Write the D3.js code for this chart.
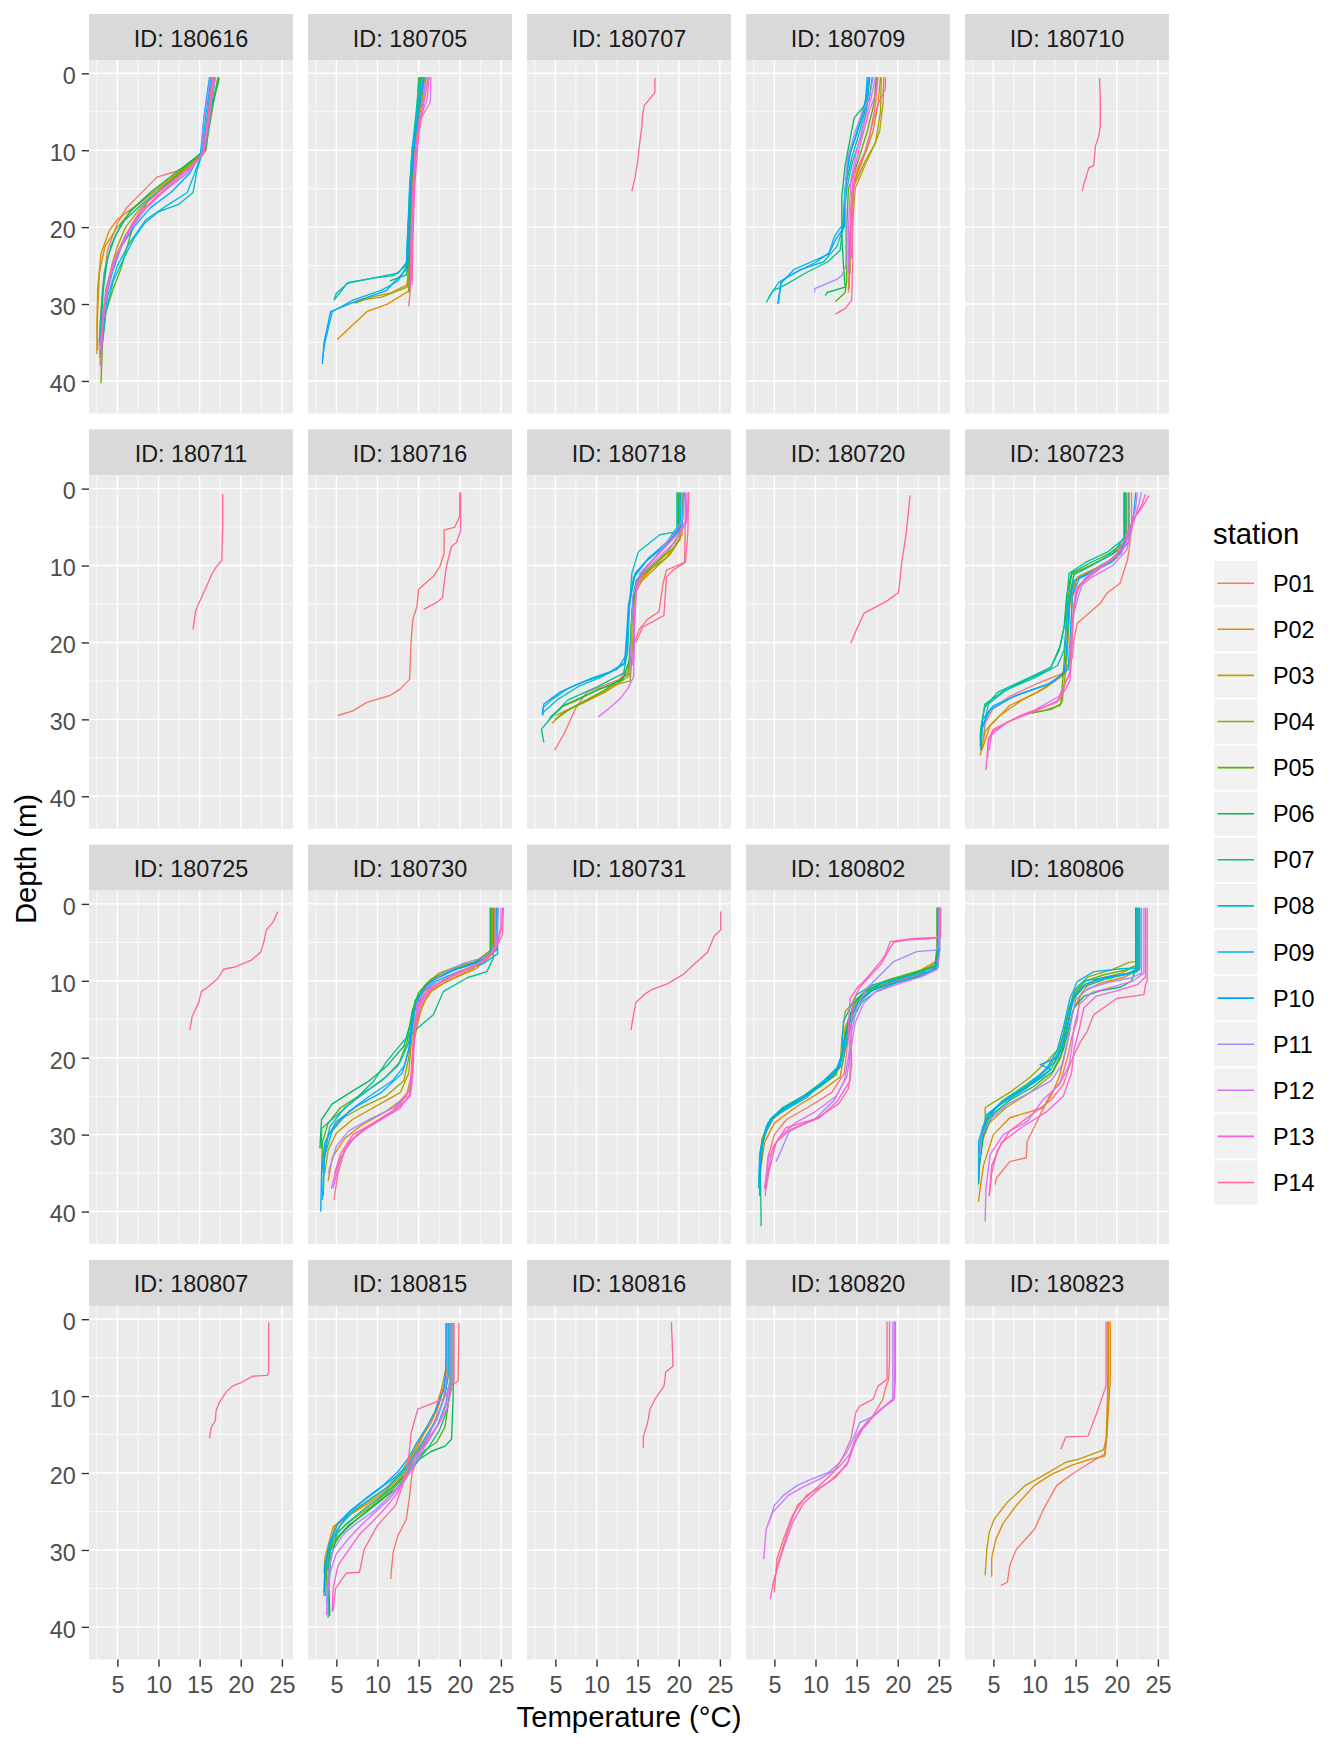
<!DOCTYPE html>
<html><head><meta charset="utf-8">
<script src="https://cdn.jsdelivr.net/npm/d3@7"></script>
<style>body{margin:0;background:#fff}svg{display:block}text{font-family:"Liberation Sans",Arial,sans-serif}</style>
</head><body>
<script>
const stations = ["P01","P02","P03","P04","P05","P06","P07","P08","P09","P10","P11","P12","P13","P14"];
const facetIds = ["180616","180705","180707","180709","180710","180711","180716","180718","180720","180723","180725","180730","180731","180802","180806","180807","180815","180816","180820","180823"];
const xTicks = [5,10,15,20,25];
const yTicks = [0,10,20,30,40];
const xMinor = [2.5,7.5,12.5,17.5,22.5];
const yMinor = [5,15,25,35];

// [temperature, depth] pairs per station
const d180616 = [
["P01",[[16.3,0.5],[16.0,5],[15.6,10],[14.5,11.5],[12,12.8],[9.8,13.5],[7.5,16],[6.1,17.5],[5,19.5],[3.8,23],[3.2,28],[2.9,33],[2.8,35.5]]],
["P02",[[16.5,0.5],[16.1,5],[15.5,10],[13.5,12],[10.5,14.5],[7.5,17],[5,19],[4,20.5],[3,23.5],[2.6,28],[2.5,33],[2.6,36]]],
["P03",[[16.8,0.5],[16.2,5],[15.8,10],[13,12.5],[10,15],[7,17.5],[5,20],[3.5,22.5],[2.8,26],[2.6,31],[2.5,36.5]]],
["P04",[[17.2,0.5],[16.5,5],[15.7,10],[13.8,12],[10.5,14.8],[7.8,17.5],[6,20],[5,22.5],[4.3,25],[3.8,28],[3.3,31],[3,35],[2.9,38]]],
["P05",[[17.3,0.5],[16.4,5],[15.6,10],[14.5,11],[11.5,14],[8.8,16.5],[7,19.5],[6.2,22.5],[5.4,25.5],[4.5,28],[3.6,31],[3.2,35],[3,40.3]]],
["P06",[[17.4,0.6],[16.6,4],[15.5,10],[14.7,10.8],[12,13],[9,15.5],[6.5,18],[4.8,21],[3.8,24],[3.3,28],[3,33],[2.9,37]]],
["P07",[[16.9,0.5],[16.4,5],[15.7,10],[14,12.2],[11,14.5],[8,17],[5.5,19.5],[4.2,22.5],[3.4,26],[3,31],[2.8,35]]],
["P08",[[16.6,0.5],[16,5],[15.3,10.5],[14.7,12.5],[14.2,15.5],[12.5,17],[10,18],[8.3,19.5],[7,21.5],[5.8,24],[4.5,27],[3.6,31],[3.2,35]]],
["P09",[[16.4,0.5],[15.8,5],[15.2,10.5],[14.4,13],[13.5,15.5],[11,17.2],[8.5,19],[6.5,22],[5,25],[3.8,29],[3.2,34]]],
["P10",[[16.2,0.5],[15.6,5],[15.1,10.5],[13.8,13],[11.5,15.5],[9,17.5],[7,20],[5.5,22.5],[4.5,25.5],[3.6,29],[3.1,33],[2.9,36.5]]],
["P11",[[16.3,0.5],[15.5,6],[15.2,10.5],[13.5,13],[10.5,15.5],[8,17.8],[6,21],[4.5,24.5],[3.6,28],[3.1,33],[2.9,36]]],
["P12",[[16.9,0.5],[16.2,5],[15.4,10.5],[13.6,12.8],[11,15],[8.5,17.5],[6.5,20.5],[5,23.5],[3.9,27],[3.3,31],[3,36]]],
["P13",[[16.7,0.5],[16.3,5],[15.5,10.5],[13.5,12.5],[10.5,15],[8.2,17.2],[6.8,19.5],[5.5,22.5],[4.5,25],[3.7,28.5],[3.2,33],[3,38.5]]],
["P14",[[16.6,0.5],[16.1,5],[15.4,10.5],[13,13],[10,15.8],[7.5,18.5],[5.8,21.5],[4.5,24.5],[3.7,28],[3.2,32],[3,37]]]
];
const d180705 = [
["P01",[[15.5,0.5],[15.0,5],[14.6,10],[14.3,15],[14.1,20],[14.0,25],[14.0,28],[13.8,30.3]]],
["P02",[[15.8,0.5],[15.1,5],[14.5,10],[14.2,15],[14,20],[13.9,25],[13.8,28.3],[11.2,30],[8.7,31],[6.5,33.2],[5.1,34.6]]],
["P03",[[16.0,0.5],[15.2,5],[14.6,10],[14.2,15],[14.0,20],[13.8,25],[13.6,27.5],[11.5,28.6],[9.6,29],[7.2,29.8]]],
["P04",[[15.2,0.5],[14.9,5],[14.4,10],[14.1,15],[13.9,20],[13.8,25],[13.6,27.8],[10.5,29.1],[8.5,29.4],[7.2,29.9]]],
["P05",[[15.0,0.5],[14.8,5],[14.4,10],[14.1,15],[14,20],[13.9,25],[13.8,28.5]]],
["P06",[[15.3,0.5],[14.9,5],[14.3,10],[14.0,15],[13.9,20],[13.8,24],[13.5,26.2],[11.5,27]]],
["P07",[[15.1,0.5],[14.7,5],[14.2,10],[13.9,15],[13.8,20],[13.6,24.5],[12.5,26],[10,26.5],[6.3,27.3],[4.8,29.4]]],
["P08",[[15.4,0.5],[14.8,5],[14.2,10],[13.9,15],[13.7,20],[13.5,25],[12.0,26.3],[9.7,26.6],[6.5,27.2],[5,28.6],[4.7,29.5]]],
["P09",[[15.6,0.5],[14.9,5],[14.3,10],[14,15],[13.8,20],[13.6,25],[12.5,27],[10.5,28.2],[7,29.5],[4.5,31],[3.6,35],[3.3,37.2]]],
["P10",[[15.7,0.5],[15,5],[14.4,10],[14,15],[13.7,20],[13.5,25.5],[11,28.3],[7.5,29.6],[4.3,31],[3.5,35],[3.3,37.8]]],
["P11",[[15.9,0.5],[15.4,5],[14.8,9],[14.4,15],[14.2,22],[14.1,27]]],
["P12",[[16.5,0.5],[16.4,3.8],[15.2,6],[14.7,10],[14.4,15],[14.2,20],[14.1,27]]],
["P13",[[16.3,0.5],[16,3.5],[15.1,6],[14.6,10],[14.3,15],[14.1,20],[14,25],[14,28]]],
["P14",[[16.2,0.5],[15.6,4],[15.0,8],[14.5,15],[14.3,22],[14.2,27.5]]]
];
const d180707 = [
["P14",[[17.1,0.6],[17.1,2.5],[16.5,3.3],[15.8,4.2],[15.6,5.5],[15.5,7],[15.2,9.5],[15,11.5],[14.7,13.5],[14.3,15.3]]]
];
const d180709 = [
["P01",[[17.5,0.5],[17.3,4],[16.6,8],[15.8,11],[14.5,15],[14.2,20],[14.1,25],[14.0,28.5]]],
["P02",[[17.9,0.5],[17.6,4],[17.0,7.5],[16.2,10],[15,13],[14.4,16],[14.2,22],[14.1,28]]],
["P03",[[18.3,0.5],[18.2,4],[17.8,7.5],[17.3,9],[16.2,11.5],[14.8,15],[14.5,20],[14.4,24]]],
["P04",[[18.0,0.5],[17.9,5],[17.3,9],[16.0,11.5],[14.5,15],[14.2,22],[14.2,26]]],
["P05",[[17.4,0.5],[17.1,4],[16.3,7.5],[15.3,11],[14.0,15],[13.8,20],[13.8,27],[13.6,28.5],[12.4,29.7]]],
["P06",[[16.9,0.5],[16.5,3.5],[14.7,5.8],[14.3,8],[13.6,12],[13.2,16],[13.2,21],[13.4,25],[13.6,27.8],[11.4,28.5],[11.2,28.9]]],
["P07",[[16.4,0.5],[16.2,4],[15.4,7.5],[14.4,11],[13.6,15],[13.3,20],[13.0,23],[11.5,24.5],[8.9,25.9],[6.5,27.4],[4.8,28.3],[4.0,29.8]]],
["P08",[[16.6,0.5],[16.3,4],[15.6,8],[14.5,11.5],[13.8,15],[13.4,20],[12.6,22.5],[11.0,24.5],[8.0,25.6],[5.5,27.2],[4.3,29.2]]],
["P09",[[16.3,0.5],[16.0,4.5],[15.0,8],[14.0,11],[13.6,15],[13.4,19.5],[12.3,21.2],[11.6,23.5],[10.2,24.2],[7.4,25.5],[5.8,27.3],[5.4,30]]],
["P10",[[16.5,0.5],[16.2,3],[15.2,7],[14.2,10.5],[13.7,14],[13.5,20],[12.5,21.5],[11.7,23.3],[10,24.6],[7.6,25.9],[5.8,27],[5.5,29.9]]],
["P11",[[17.0,0.5],[16.6,3],[15.7,5],[14.7,8],[13.9,11],[13.6,15],[13.7,20],[13.7,25],[13.2,26.3],[12.6,26.8],[9.9,28],[9.9,28.5]]],
["P12",[[17.3,0.5],[16.8,3],[15.9,6.5],[15.0,10],[14.3,14],[14,20],[14,26]]],
["P13",[[17.6,0.5],[17.4,2.5],[16.5,5],[15.5,9],[14.6,13],[14.3,18],[14.3,24]]],
["P14",[[18.5,0.5],[18.5,2],[17.6,4],[16.8,7],[16.1,10],[14.8,13],[14.5,18],[14.5,25],[14.4,29.5],[13.6,30.6],[12.4,31.3]]]
];
const d180710 = [
["P14",[[17.9,0.6],[18,3],[18,6.9],[17.8,8.2],[17.4,9.5],[17.2,12],[16.6,12.3],[16.3,13.4],[16,14.4],[15.8,15.3]]]
];
const d180711 = [
["P14",[[17.8,0.7],[17.8,5],[17.7,9.3],[17,10.2],[16.5,11.1],[15.8,12.8],[15.3,14],[14.8,15.1],[14.5,16],[14.3,17.5],[14.2,18.3]]]
];
const d180716 = [
["P01",[[20.0,0.5],[20,3.6],[19.4,5],[18.1,5.4],[18.1,8.4],[17.6,10.1],[16.8,11.4],[15.0,13.1],[14.8,15.3],[14.3,17],[14.1,19.6],[13.9,24.8],[12.7,26.1],[11.5,26.9],[8.7,27.8],[7,28.9],[5.2,29.5]]],
["P14",[[20.1,0.5],[20.1,5.5],[19.6,7],[19.0,7.5],[18.4,10],[18.1,12.3],[17.9,14.2],[17.2,14.8],[15.6,15.7]]]
];
const d180718 = [
["P01",[[20.8,0.5],[20.8,4],[20.7,9.6],[18.5,10.6],[18.1,12.3],[17.6,16],[16.2,17],[15.2,18.3],[14.6,20],[14.5,22.2],[12.8,24.8],[8.8,26.5],[7.5,28.5],[6.0,32],[4.9,34]]],
["P02",[[20.5,0.5],[20.4,6],[19.3,7.8],[17.5,9.5],[16,11.2],[14.9,12.5],[14.4,15],[14.2,20],[14.0,23.5],[12.5,25.5],[9,27.5],[6,29],[4.6,30.5]]],
["P03",[[20.3,0.5],[20.2,6.5],[19,8.5],[17,10.5],[15.5,12],[14.5,14],[14.1,20],[13.8,24.5],[11,26.5],[7.5,28.3],[5,29.5]]],
["P04",[[20.1,0.5],[20.1,6.5],[18.5,9],[16.5,10.5],[15,12],[14.6,14],[14.4,20],[14.1,25],[10.4,26],[7.5,27.6],[5.9,28.3],[4.1,30.2]]],
["P05",[[20,0.5],[20,6],[18.8,8],[16.8,10],[15.3,11.5],[14.6,13],[14.2,18],[14,24],[11,26.2],[7,28.5],[5,30]]],
["P06",[[19.9,0.5],[19.9,5.5],[18,8],[16.2,10],[14.8,12],[14.3,16],[14.1,22],[13.2,24.8],[9.5,26.5],[6,28.2],[4.3,29.8]]],
["P07",[[19.8,0.5],[19.8,5],[18.2,7.5],[16,9.5],[14.6,11.5],[14.0,15],[13.8,21],[13.3,24],[10,25.8],[6.5,27.5],[4.7,29.5],[3.3,31.3],[3.6,33]]],
["P08",[[19.8,0.5],[19.8,5.6],[17.7,6],[15.1,8.2],[14.3,11],[13.7,19.6],[13.5,22.6],[10.8,24.4],[8,25.6],[5.3,27.4],[3.5,29.1]]],
["P09",[[20.2,0.5],[20.2,5],[18.5,7],[16.2,9.2],[14.5,11.5],[13.9,16],[13.7,21.5],[12.5,23.5],[9.5,24.6],[6.5,26],[4.5,27.5],[3.5,28.5],[3.5,29.5]]],
["P10",[[20.6,0.5],[20.4,5],[18.5,7.2],[16.4,9],[14.7,11],[13.9,15],[13.6,20],[13.4,22.8],[11.5,24],[8,25.3],[5.5,26.5],[3.6,28],[3.4,29.4]]],
["P11",[[20.7,0.5],[20.5,4],[19.3,6],[17.2,8.8],[15.3,11],[14.4,14],[14.2,20],[14,24.5]]],
["P12",[[21.0,0.5],[20.9,4.5],[19.5,7],[17.5,9],[15.6,11],[14.8,13.5],[14.6,19],[14.5,24.5],[13.8,26],[12.8,27.4],[11.4,28.7],[10.2,29.7]]],
["P13",[[21.2,0.5],[21.0,4],[19.8,6],[18,8],[16.2,10],[14.9,12.5],[14.6,17],[14.4,23]]],
["P14",[[21.2,0.5],[21.1,5.8],[20.8,9.6],[19.3,10.6],[18.5,11.5],[18.2,16.5],[17,17.2],[15.6,18],[14.8,20]]]
];
const d180720 = [
["P14",[[21.5,0.9],[21.3,3],[21.0,6],[20.5,9.5],[20.1,13.5],[18.7,14.6],[17.3,15.4],[15.9,16.2],[15.0,18.3],[14.3,20.1]]]
];
const d180723 = [
["P01",[[21.8,0.5],[21.8,5],[21.5,8],[21.3,9.3],[20.4,12.3],[18.8,13.6],[18,14.9],[15.2,17.5],[14.8,19.6],[14.6,22],[13.5,24],[10,25.5],[7,27],[5,28.5],[4,30.5],[3.8,32.5]]],
["P02",[[21.4,0.5],[21.4,6],[20.5,8.5],[17.5,10.3],[15.2,11.5],[14.6,14],[14.4,20],[14.2,23],[12.5,25],[10.3,26.5],[7,28.2],[4.6,30.8],[3.6,34]]],
["P03",[[21.2,0.5],[21.2,6.5],[20,9],[17,10.7],[15,11.8],[14.3,15],[14.0,21],[13.8,24],[11.5,25.8],[8.5,27.5],[5.8,29.5],[4,31.5],[3.4,34.7]]],
["P04",[[21.0,0.5],[21,7],[19.8,8.2],[17.2,9.8],[14.8,11],[14.3,14],[14,20],[13.8,23.5],[13.4,27.5],[13.1,28.2],[11,28.9],[9.1,29.3]]],
["P05",[[21,0.5],[21,7.5],[19.5,8.5],[16.8,10],[14.5,11.2],[14.0,15],[13.7,21],[13.5,24],[13.2,28],[12,28.7],[9.5,29.2]]],
["P06",[[20.9,0.5],[20.9,7],[19,8.5],[16.5,9.8],[14.5,11],[13.9,14],[13.6,18],[13.1,20.5],[11.9,23.5],[9.1,24.8],[6,26.5],[4,28],[3.5,31],[3.4,33.5]]],
["P07",[[20.9,0.5],[20.9,6.5],[18.8,8.3],[16.2,9.6],[14.2,11],[13.7,17.5],[13.0,21],[12,23.2],[9.5,24.5],[5.5,26.5],[3.9,28.5],[3.4,32],[3.5,34]]],
["P08",[[21.1,0.5],[21.1,6],[19.5,8.5],[17,10],[14.8,11.2],[14.1,15],[13.6,21],[12.8,23],[10,24.6],[6.5,26.2],[4.4,28],[3.8,31]]],
["P09",[[21.5,0.5],[21.5,6],[20,8.8],[17.8,10.4],[15.5,11.5],[14.6,14],[14.3,20],[14.1,23.5],[12.2,25.2],[8.3,26.7],[5,28.2],[3.7,30],[3.5,33.8]]],
["P10",[[22.3,0.5],[22.1,3],[21.4,7],[19.5,9.5],[16.8,11],[14.8,12],[14.2,15],[13.9,21],[13.6,24],[11.5,25.5],[7.5,27],[4.6,28.8],[3.6,31],[3.5,34]]],
["P11",[[22.5,0.5],[22.3,2.5],[21.6,5.5],[20.5,8.5],[18,10],[16,11.8],[15.2,14.5],[14.6,17],[14.3,22]]],
["P12",[[23.0,0.5],[22.7,2],[21.9,5],[21.2,8],[19.5,10],[17,11.5],[15.2,13],[14.6,17],[14.4,22],[14.3,24],[13,27],[10,28.8],[6.5,30.5],[4.8,32],[4.5,34]]],
["P13",[[23.5,0.7],[23.0,2.2],[21.8,4.5],[21.0,7.5],[19,9.5],[16.8,11.2],[15.0,13],[14.7,17],[14.5,22],[14.3,25],[13,27.5],[10,29],[7,30.2],[5,31.5],[4.4,33],[4.3,35]]],
["P14",[[23.9,0.9],[23.1,2.4],[22.0,4],[21,6.5],[20,8.5],[17.8,10.5],[15.5,12.5],[14.8,15],[14.6,18],[14.3,23.9],[12.7,27.8],[8.3,29.5],[5,31.3],[4.4,32.5],[4.1,36.6]]]
];
const d180725 = [
["P14",[[24.5,1],[23.9,2.4],[23.1,3.4],[22.8,5],[22.4,6.3],[21.3,7.3],[19.3,8.2],[17.9,8.5],[17.2,9.7],[16,10.8],[15.2,11.4],[14.9,12.8],[14.1,14.6],[13.8,16.4]]]
];
const d180730 = [
["P01",[[24.2,0.5],[24.2,6],[22.5,7.8],[19.5,9.2],[17,10.5],[15.4,12],[14.5,15],[14.2,20],[14.0,24],[12.5,26.5],[9.5,28.5],[7.5,30],[6,32],[5.2,35],[4.7,38.5]]],
["P02",[[24.0,0.5],[24,6.5],[22,8.4],[19,9.8],[16.8,11],[15.5,13],[15,15],[14.4,18],[14.2,22],[13.5,25],[11,27],[8,28.8],[6,30.5],[4.5,33],[4,36]]],
["P03",[[23.8,0.5],[23.8,6.5],[21.5,8.5],[18.5,10],[16.2,11.6],[15,14.5],[14.2,17],[13.8,22],[12.8,24.5],[10,26.2],[7,28],[5,29.8],[4,32],[3.6,35]]],
["P04",[[23.9,0.5],[23.9,6],[22.8,7.3],[20,8],[17.5,9],[15.8,10.5],[14.7,12.5],[14.2,15.5],[13.8,20],[13.2,23],[11,25],[8,26.5],[5.5,28],[4,30],[3.6,33]]],
["P05",[[23.8,0.5],[23.8,6],[21.8,7.6],[18.8,8.6],[16.5,9.8],[15,11.5],[14.2,14],[13.6,18],[12.5,21],[10.5,23],[8,24.8],[5.5,26.5],[4,28.5],[3.3,31],[3.2,35]]],
["P06",[[23.7,0.5],[23.7,6.5],[21,8],[18,9],[16,10.5],[14.6,12.5],[14.0,15.5],[13.2,18.5],[11.2,21],[9,23],[7,24.3],[4.5,26],[3.2,28],[3.0,31.8]]],
["P07",[[24.1,0.5],[24.1,7],[23.3,8.8],[20.9,9.6],[18,11.4],[16.8,14.4],[14.5,16.5],[13.1,17.9],[11.1,20.5],[9.5,23.1],[7.4,25.3],[4.6,27.9],[3.2,29.2],[3.2,31.8]]],
["P08",[[24.5,0.5],[24.5,6],[22.5,7.5],[19.5,8.5],[17,9.8],[15.3,11.5],[14.3,14.5],[13.8,18],[12.8,20.5],[11,22.5],[8.5,24.5],[6,26.5],[4.2,29],[3.6,32],[3.4,38]]],
["P09",[[24.6,0.5],[24.6,6.5],[22.8,7.8],[19.8,8.8],[17.2,10],[15.5,11.5],[14.5,14],[14,18],[13.3,21],[11.8,23],[9,25],[6.5,27],[4.5,29.5],[3.5,33],[3.3,38.5]]],
["P10",[[24.4,0.5],[24.4,6],[22,7.7],[19,8.7],[16.6,10],[15,12],[14.2,15],[13.8,19],[13,22],[10.5,24.5],[7.5,26.3],[5,28.3],[3.6,31],[3.2,35],[3.1,40]]],
["P11",[[24.7,0.5],[24.5,5],[23.5,6.8],[20.5,7.7],[18,9],[16,10.8],[14.8,13],[14.5,16],[14.3,20],[14.1,24],[12,26.5],[9,28],[6.5,29.5],[5,31.5],[4,35]]],
["P12",[[25.0,0.5],[25,3],[24.3,6],[22,8],[19,9.5],[16.5,11],[15,13.5],[14.5,17],[14.3,22],[14,25],[12,27],[9,28.8],[7,30.5],[5.5,33],[4.6,37]]],
["P13",[[25.2,0.5],[25.1,3],[24.5,5.5],[22.8,7.5],[19.5,9],[17,10.5],[15.4,12.5],[14.6,16],[14.2,21],[13.9,24.8],[12.7,26.6],[8.7,29.2],[6.6,30.9],[5,34.4],[4.4,37]]],
["P14",[[25.3,0.5],[25.2,4],[24,6.5],[21.5,8.3],[18.5,9.6],[16.2,11],[15,13],[14.5,16],[14.3,20],[14.1,24],[12,26.8],[9.5,28.5],[7,30],[5.5,32.5],[4.8,35]]]
];
const d180731 = [
["P14",[[25.1,1],[25.1,3.4],[24.3,4.2],[23.5,6.3],[21.9,7.8],[20.5,9.2],[18.6,10.4],[16.8,11.1],[15.9,11.7],[14.8,12.8],[14.4,15],[14.2,16.4]]]
];
const d180802 = [
["P01",[[24.9,0.5],[24.9,5],[24.7,7.5],[23,9],[20,10],[17,11],[15.2,12.5],[14.2,15],[13.8,19],[13.5,22],[12,24.5],[9,26.5],[6.5,28],[5,30],[4.2,33],[3.9,37]]],
["P02",[[25.0,0.5],[25,5],[24.9,8],[23.5,9],[20.5,10],[17.2,11],[15.3,12.5],[14,15],[13.5,19.5],[13,22.5],[10.5,24.5],[7.5,26.5],[5,28.5],[3.8,31],[3.4,34]]],
["P03",[[24.8,0.5],[24.8,5],[24.6,7.5],[22.5,8.8],[19.5,10],[16.5,11.5],[14.8,13.5],[13.6,16],[13.3,19.5],[12.5,22],[10,24],[7,26],[4.8,28],[3.6,30.5],[3.2,34]]],
["P04",[[24.8,0.5],[24.8,6],[24.5,8],[22,9],[19,10],[16.5,11],[14.8,12.5],[13.6,14],[13.2,17.5],[13,21],[11.5,22.8],[9,24.8],[6.5,26.3],[4.5,28],[3.5,30.5],[3.2,34]]],
["P05",[[24.9,0.5],[24.9,6],[24.6,8],[22.2,8.8],[19,9.8],[16.5,10.8],[15,12.5],[14,15],[13.4,18.5],[12.8,21.5],[10.8,23.3],[8.5,25],[6,26.5],[4.3,28.5],[3.4,31.5]]],
["P06",[[24.8,0.5],[24.8,6],[24.5,8.2],[21.5,9.2],[18.2,10.2],[16,11.5],[14.6,13],[13.8,16],[13.3,19.5],[12.5,22.2],[10.5,23.8],[8,25.6],[5.5,27],[4,29],[3.3,32],[3.1,37]]],
["P07",[[25.1,0.5],[25.1,6],[24.8,8],[22.5,9],[19.5,10],[17,11],[15.3,12.5],[14.3,15],[13.5,18.5],[12.8,21.5],[11,23],[8.5,25],[6,26.5],[4.5,28],[3.6,31],[3.3,35],[3.4,41.9]]],
["P08",[[25.0,0.5],[25,6],[24.9,8.2],[23.2,9.3],[20,10.2],[17.5,11.3],[15.6,12.8],[14.5,15],[13.7,18.5],[13.2,21],[11.5,22.8],[9.5,24.5],[7,26],[5,27.5],[3.8,30],[3.3,33],[3.2,38]]],
["P09",[[24.9,0.5],[24.9,7],[24.7,8.5],[23.6,8.8],[20.3,9.7],[17,10.5],[15,11.8],[14.2,13.5],[13.4,15.3],[13.2,19.6],[12.6,21.3],[10.9,23.1],[8.9,25.2],[6.8,26.5],[4.8,27.8],[3.8,30],[3.2,32.6],[3.1,37]]],
["P10",[[25.0,0.5],[25,6],[24.6,8.3],[22.8,9.3],[19.8,10.2],[17,11.2],[15.2,12.8],[14.2,15],[13.5,18],[13,21],[11.3,23],[8.5,25.2],[6,26.8],[4.2,28.5],[3.4,31.5],[3.2,36]]],
["P11",[[25.0,0.5],[25,5.5],[24.6,6],[22.3,6.2],[19.5,7.5],[17.9,9.2],[16.2,11],[15,13.5],[14.4,16.5],[14,20],[13.5,23],[12.3,25.5],[10.1,27.8],[6.8,29.6],[5.6,32.6],[5.2,33.5]]],
["P12",[[25.1,0.5],[25.1,6],[24.8,8.5],[22.8,9.5],[19.8,10.5],[17.2,11.5],[15.8,13],[14.8,15.5],[14.3,19],[13.8,22.5],[12.5,25],[10,27],[7.5,28.5],[5.5,30.5],[4.3,33],[3.8,37]]],
["P13",[[25.2,0.5],[25.2,4],[24.6,4.4],[21.9,4.5],[19.1,4.9],[18.5,6.6],[17.9,7.5],[16.2,9.7],[15,11],[14.2,12.3],[14,16],[14.2,20],[14.2,23],[12.6,25.7],[10.5,27.8],[6.4,29.1],[4.8,31.7],[4,36],[3.9,38]]],
["P14",[[25.2,0.5],[25.2,4.3],[24,4.5],[21,4.7],[19.5,5],[18.8,6.2],[18,7.8],[16.8,9.2],[15.4,10.8],[14.6,12.5],[14.3,16],[14.4,21],[14,24],[12.8,26],[10,28],[7,29.3],[5.2,31],[4.3,35],[4,37]]]
];
const d180806 = [
["P01",[[22.6,0.5],[22.6,8.5],[21.5,9],[19,9.6],[16.5,10.5],[15.5,12],[15.2,15],[14.5,17.5],[14,20],[13.2,23],[11.9,24.8],[10.3,28.3],[9.1,30.9],[9,33],[7,33.5],[5.4,35.6],[5.2,36.5]]],
["P02",[[22.7,0.5],[22.7,8.5],[21,9.5],[18,10.3],[15.8,11.5],[14.6,14],[14.2,17],[13.6,20],[13,22.5],[12,25],[11.1,26.5],[7,27.8],[5,30],[3.8,34],[3.4,36.9],[3.2,38.7]]],
["P03",[[22.5,0.5],[22.5,8],[20.5,9],[17.5,9.8],[15.5,11],[14.4,13.5],[13.8,17],[13.2,20],[12,22.3],[9.5,24.5],[6.5,26.5],[4.5,28.5],[3.6,31],[3.3,34]]],
["P04",[[22.3,0.5],[22.3,7.5],[21.5,7.6],[19.5,8.5],[16.5,9.5],[15,11],[14.2,13.5],[13.5,17],[12.8,19],[11.5,20.5],[9.5,22.5],[7,24.5],[5,25.8],[4,26.5],[4,28.3]]],
["P05",[[22.4,0.5],[22.4,8],[21,8.6],[18.5,9.2],[16.2,10],[14.8,11.8],[14,14.5],[13.3,18],[12.5,20.5],[10.5,22.5],[7.5,24.8],[5,26.8],[3.8,29.5],[3.4,33]]],
["P06",[[22.3,0.5],[22.3,8.5],[21.8,10],[20.5,10.8],[18,11.3],[16,12],[14.8,13.5],[14.2,16],[13.5,19],[12.2,21.8],[9.8,23.8],[7,25.5],[5,27.3],[3.8,30],[3.3,34],[3.2,36.5]]],
["P07",[[22.4,0.5],[22.4,8.5],[21,9.2],[18.5,9.8],[16,10.8],[14.6,12.5],[14,16],[13.3,19],[12,21.5],[9.5,23.5],[7,25],[5,26.8],[3.7,29],[3.3,32],[3.2,35]]],
["P08",[[22.5,0.5],[22.5,8.8],[21.2,9.2],[18.5,9.6],[16,10],[14.8,11.5],[14.2,14],[13.6,17],[12.8,19.5],[11.5,21.5],[9,23.5],[6.2,25.5],[4.3,27.5],[3.4,30.5],[3.3,34]]],
["P09",[[22.6,0.5],[22.6,8.4],[20.9,8.4],[17.2,8.8],[15.2,10.1],[14.3,12.3],[13.5,16.1],[12.7,19.2],[11.5,21.3],[9.1,23.9],[6.2,25.7],[4.2,27.4],[3.2,30.9],[3.2,35.6]]],
["P10",[[22.8,0.5],[22.8,8.5],[21.5,9],[18.8,9.5],[16.2,10.4],[14.8,12],[14.2,15],[13.5,18],[12.8,20],[10.7,20.9],[12,21.5],[11,22.5],[8.5,24.3],[5.8,26],[4.2,28],[3.4,31.5],[3.2,36]]],
["P11",[[23.0,0.5],[23,9],[21.8,9.6],[19,10.2],[16.5,11],[15,12.5],[14.5,15],[14,18],[13.3,21],[12,23],[9.5,24.5],[6.8,26],[4.8,27.8],[3.6,30],[3.3,33]]],
["P12",[[23.3,0.5],[23.3,9],[22,10],[19.5,10.8],[17,11.5],[15.5,13],[14.8,16],[14.5,19],[14.2,21],[13,23.5],[11,25.5],[9.1,28.3],[6.2,30],[4.6,32.6],[4.1,37],[4,41.3]]],
["P13",[[23.5,0.5],[23.5,9.5],[22.5,10.5],[20,11.3],[17.5,12],[16,13.5],[15.5,16],[14.8,19],[14.5,22],[13.5,25],[11.5,27],[8.5,29],[6,31],[4.8,34],[4.5,38]]],
["P14",[[23.7,0.5],[23.7,10],[23.5,10.5],[23.3,11.8],[20,12.3],[18.4,13.5],[17.2,14.4],[16.4,16.6],[15.6,17.9],[14.8,19.6],[14.3,20.9],[13.5,23.5],[12,25.5],[9.5,27.5],[7,29.5],[5.5,32],[4.8,35],[4.5,38]]]
];
const d180807 = [
["P14",[[23.4,0.4],[23.4,5],[23.4,6.9],[23.2,7.3],[21.5,7.4],[20.1,8.2],[19,8.7],[18.2,9.5],[17.4,10.8],[17,11.9],[16.9,13.2],[16.4,14.1],[16.2,15.5]]]
];
const d180815 = [
["P01",[[19.9,0.5],[19.8,8],[18.5,9],[17.5,10],[17.2,12.5],[16.3,15],[15,17.5],[14.2,20],[13.9,23],[13.5,26],[12.5,28.1],[11.9,30.3],[11.7,32.5],[11.6,33.8]]],
["P02",[[18.6,0.5],[18.5,6],[18.2,8],[17.5,11],[16.5,13.5],[15.6,15],[14.8,16.8],[13.8,18.5],[12.8,20.5],[11,22.3],[8.8,24],[6.5,25.5],[4.8,27],[4.2,29.5],[3.8,32],[3.6,34]]],
["P03",[[18.3,0.5],[18.3,6.5],[17.8,9],[17,12],[16,14],[15,16],[14,18],[12.8,20],[11,22],[8.5,24],[6,25.8],[4.6,27],[4.1,29],[3.6,31],[3.5,33]]],
["P04",[[18.7,0.5],[18.7,7],[18.1,10],[17.2,13],[16.2,15],[15.3,16.5],[14.2,18.5],[13,20.5],[11.2,22.5],[9,24.5],[7,26],[5.3,27.5],[4.4,29.5],[3.8,32],[3.7,34]]],
["P05",[[19.0,0.5],[19,8],[18.6,11],[18.2,14],[17.2,16],[15.8,17],[14.5,18.5],[13.2,20.5],[11.5,22.5],[9.5,24.3],[7.5,26],[5.5,28],[4.3,30],[3.8,33],[3.7,36]]],
["P06",[[19.2,0.5],[19.2,10],[19,15.6],[18.2,16.5],[16.5,17.2],[15.1,18.2],[13.8,20],[12.3,22],[10.5,23.5],[8.5,25.2],[6.5,26.8],[5,28.5],[4.3,31],[4.1,35],[4.2,38.6]]],
["P07",[[18.9,0.5],[18.9,9],[18.4,12],[17.5,14.5],[16.3,16.5],[15,18.3],[13.8,19.8],[12.2,21.5],[10.2,23.2],[8,25],[6,26.8],[4.6,28.5],[4.1,31],[4,35],[4,38.8]]],
["P08",[[18.8,0.5],[18.8,8],[18.3,11],[17.4,13.5],[16.4,15.5],[15.2,17],[14.2,18.5],[13,20],[11.3,21.8],[9.2,23.3],[7.2,24.8],[5.5,26.8],[4.3,29],[3.7,32],[3.6,35]]],
["P09",[[18.6,0.5],[18.6,7],[18.2,10],[17.2,13],[16,15],[15,16.8],[13.8,18.8],[12.2,20.5],[10.3,22],[8.3,23.6],[6.5,25.2],[5,27.5],[4,30],[3.6,33],[3.5,36]]],
["P10",[[18.4,0.5],[18.4,5],[18.1,9],[17,12],[16,14],[14.8,16],[13.8,18],[12.5,19.8],[10.8,21.5],[8.7,23.2],[6.8,24.8],[5.2,26.5],[4.2,29],[3.6,32],[3.5,35.5]]],
["P11",[[18.5,0.5],[18.5,7],[18,10.5],[17.2,13],[16.2,15],[15.2,17],[14.3,19],[13.2,21],[11.5,23],[9.5,25],[7.5,26.5],[5.8,28],[4.6,30],[4,33],[3.8,37]]],
["P12",[[18.8,0.5],[18.8,8],[18.4,11],[17.5,13.5],[16.4,15.5],[15.2,17.5],[14.2,19.5],[13,21.5],[11.5,23.3],[9.8,25],[8,26.8],[6.5,28.5],[5,30.5],[4.2,33],[3.9,36],[3.8,38.5]]],
["P13",[[19.0,0.5],[19,9],[18.5,11.5],[17.2,14],[15.8,16],[14.5,18],[13.5,20],[12.5,22.5],[11,24.5],[9.5,26.2],[7.8,28],[6.5,30],[5.2,32],[4.6,35],[4.5,38]]],
["P14",[[19.3,0.5],[19.3,8],[18,10.4],[14.9,11.7],[14.1,14.7],[13.6,19.9],[12.2,24.2],[10,26.8],[8.4,29.9],[7.8,32.9],[6.2,33],[4.9,35],[4.6,38]]]
];
const d180816 = [
["P14",[[19.1,0.4],[19.2,3],[19.3,6.1],[18.4,6.9],[18.3,8],[18.2,8.7],[17.1,10.4],[16.5,11.7],[16.3,13],[16.1,13.9],[15.7,15.2],[15.7,16.7]]]
];
const d180820 = [
["P01",[[19.0,0.3],[19,5],[18.9,7.8],[18.5,9],[18.2,10.4],[16.5,13.4],[15.4,14.6],[14.3,17.3],[13.8,19],[11.6,21.2],[8.9,22.9],[7.2,25.5],[6.1,28.6],[5.3,31.2],[5.0,35.5]]],
["P11",[[19.4,0.3],[19.4,5],[19.4,10.4],[17.1,12.6],[15.4,13.4],[14.6,15.5],[13.8,17.3],[12.8,18.8],[11.6,19.9],[9.5,20.8],[7.8,21.6],[6.1,22.9],[5,24.2],[4.2,26.8]]],
["P12",[[19.6,0.3],[19.6,6],[19.6,10.2],[18.2,11.5],[16.5,13],[15,15],[14.2,17.5],[12.8,19.3],[10.5,20.8],[8.5,21.8],[6.7,22.9],[4.8,25.1],[4,27.3],[3.7,31.2]]],
["P13",[[19.7,0.3],[19.7,8],[19.5,10.5],[17.8,11.8],[16,13.8],[14.8,16],[14,18.5],[12.5,20.5],[10.5,22],[8.5,24],[7.2,26.5],[6.2,29.5],[5.3,32.5],[4.8,34.6],[4.5,36.4]]],
["P14",[[18.7,0.3],[18.7,5],[18.7,7.8],[17.6,8.7],[17,10.4],[15.4,11.3],[14.9,12.1],[14.3,15.6],[13.2,18.2],[12.2,19.9],[10.5,21.6],[7.8,24.2],[6.7,27.3],[5.6,31.2],[4.8,34.6]]]
];
const d180823 = [
["P01",[[18.9,0.3],[18.9,8],[18.8,15],[18.6,17.5],[17,18.5],[14.9,19.9],[12.7,21.6],[11.1,24.7],[10,27.3],[7.8,29.9],[7,32],[6.7,34.2],[5.9,34.6]]],
["P02",[[19.2,0.3],[19.2,8],[18.8,15],[18.5,17.8],[16.5,18.3],[14.5,19],[12,20.2],[10,21.6],[7.8,24.2],[6.2,26.5],[5.3,28.6],[4.8,31],[4.8,33.5]]],
["P03",[[19.0,0.3],[19,8],[18.7,15.6],[18.4,17],[15.4,18.2],[13.8,18.6],[11.1,20.3],[8.9,21.6],[6.7,23.8],[5.1,26],[4.5,27.7],[4.2,30],[4,33.3]]],
["P14",[[18.7,0.3],[18.7,5],[18.7,8.7],[17.6,12.1],[16.5,15.2],[13.8,15.3],[13.2,16.9]]]
];

const facetData = [d180616,d180705,d180707,d180709,d180710,d180711,d180716,d180718,d180720,d180723,d180725,d180730,d180731,d180802,d180806,d180807,d180815,d180816,d180820,d180823];

// ggplot2 hue palette (polar LUV, l=65, c=100)
function hclHex(h, c, l) {
  const Xn = 95.047, Yn = 100, Zn = 108.883;
  const un = 4*Xn/(Xn+15*Yn+3*Zn), vn = 9*Yn/(Xn+15*Yn+3*Zn);
  const hr = h*Math.PI/180;
  const U = c*Math.cos(hr), V = c*Math.sin(hr);
  const Y = l > 8 ? Yn*Math.pow((l+16)/116, 3) : Yn*l/903.3;
  const u = U/(13*l) + un, v = V/(13*l) + vn;
  const X = Y*9*u/(4*v);
  const Z = Y*(12 - 3*u - 20*v)/(4*v);
  const x = X/100, y = Y/100, z = Z/100;
  const lin = [3.240479*x - 1.537150*y - 0.498535*z,
               -0.969256*x + 1.875992*y + 0.041556*z,
               0.055648*x - 0.204043*y + 1.057311*z];
  const g = lin.map(t => {
    const s = t <= 0.0031308 ? 12.92*t : 1.055*Math.pow(t, 1/2.4) - 0.055;
    return Math.round(Math.max(0, Math.min(1, s))*255);
  });
  return d3.rgb(g[0], g[1], g[2]).formatHex();
}
const nS = stations.length;
const palette = stations.map((s, i) => hclHex(15 + 360*i/nS, 100, 65));
const color = d3.scaleOrdinal(stations, palette);

const W = 1344, H = 1747;
const colLeft0 = 89, colPitch = 219, panelW = 204;
const rowTop0 = 14, rowPitch = 415.3, stripH = 46, panelH = 353.5;
const nCol = 5, nRow = 4;
const FONT = '"Liberation Sans", Arial, sans-serif';

const x = d3.scaleLinear().domain([1.55, 26.35]).range([0, panelW]);
const y = d3.scaleLinear().domain([-1.73, 44.23]).range([0, panelH]);

const svg = d3.select("body").append("svg").attr("width", W).attr("height", H);
svg.append("rect").attr("width", W).attr("height", H).attr("fill", "#fff");

const line = d3.line().x(d => x(d[0])).y(d => y(d[1]));

facetIds.forEach((id, i) => {
  const r = Math.floor(i / nCol), c = i % nCol;
  const left = colLeft0 + c*colPitch;
  const top = rowTop0 + r*rowPitch;
  const g = svg.append("g").attr("transform", `translate(${left},${top})`);
  // strip
  g.append("rect").attr("width", panelW).attr("height", stripH).attr("fill", "#D9D9D9");
  g.append("text").attr("x", panelW/2).attr("y", 32.5).attr("text-anchor", "middle")
    .attr("font-size", 23.4).attr("fill", "#1A1A1A").text("ID: " + id);
  const p = g.append("g").attr("transform", `translate(0,${stripH})`);
  const clipId = "clip" + i;
  p.append("clipPath").attr("id", clipId).append("rect").attr("width", panelW).attr("height", panelH);
  p.append("rect").attr("width", panelW).attr("height", panelH).attr("fill", "#EBEBEB");
  p.selectAll(".vmin").data(xMinor).join("line").attr("class","vmin")
    .attr("x1", d => x(d)).attr("x2", d => x(d)).attr("y1", 0).attr("y2", panelH)
    .attr("stroke", "#fff").attr("stroke-width", 0.7);
  p.selectAll(".hmin").data(yMinor).join("line").attr("class","hmin")
    .attr("y1", d => y(d)).attr("y2", d => y(d)).attr("x1", 0).attr("x2", panelW)
    .attr("stroke", "#fff").attr("stroke-width", 0.7);
  p.selectAll(".vmaj").data(xTicks).join("line").attr("class","vmaj")
    .attr("x1", d => x(d)).attr("x2", d => x(d)).attr("y1", 0).attr("y2", panelH)
    .attr("stroke", "#fff").attr("stroke-width", 1.4);
  p.selectAll(".hmaj").data(yTicks).join("line").attr("class","hmaj")
    .attr("y1", d => y(d)).attr("y2", d => y(d)).attr("x1", 0).attr("x2", panelW)
    .attr("stroke", "#fff").attr("stroke-width", 1.4);
  const lg = p.append("g").attr("clip-path", `url(#${clipId})`);
  const data = facetData[i].slice().sort((a, b) => stations.indexOf(a[0]) - stations.indexOf(b[0]));
  lg.selectAll("path").data(data).join("path")
    .attr("d", d => line(d[1]))
    .attr("fill", "none").attr("stroke", d => color(d[0]))
    .attr("stroke-width", 1.35).attr("stroke-linejoin", "round").attr("stroke-linecap", "butt");

  if (c === 0) {
    const ax = p.append("g").call(d3.axisLeft(y).tickValues(yTicks).tickSize(7.3).tickPadding(5.9));
    ax.select(".domain").remove();
    ax.selectAll("line").attr("stroke", "#333333").attr("stroke-width", 1.4);
    ax.selectAll("text").attr("font-size", 23.4).attr("fill", "#4D4D4D").attr("font-family", FONT).attr("dy", "0.44em");
  }
  if (r === nRow - 1) {
    const ax = p.append("g").attr("transform", `translate(0,${panelH})`)
      .call(d3.axisBottom(x).tickValues(xTicks).tickSize(7.3).tickPadding(10));
    ax.select(".domain").remove();
    ax.selectAll("line").attr("stroke", "#333333").attr("stroke-width", 1.4);
    ax.selectAll("text").attr("font-size", 23.4).attr("fill", "#4D4D4D").attr("font-family", FONT);
  }
});

// axis titles
svg.append("text").attr("x", 629).attr("y", 1727).attr("text-anchor", "middle")
  .attr("font-size", 29.3).attr("fill", "#000").text("Temperature (°C)");
svg.append("text").attr("transform", "translate(36,859) rotate(-90)").attr("text-anchor", "middle")
  .attr("font-size", 29.3).attr("fill", "#000").text("Depth (m)");

// legend
const leg = svg.append("g").attr("transform", "translate(1213,0)");
leg.append("text").attr("x", 0).attr("y", 543.7).attr("font-size", 29.3).attr("fill", "#000").text("station");
const keyTop0 = 560.2, keyPitch = 46.1;
const items = leg.selectAll(".key").data(stations).join("g")
  .attr("transform", (d, i) => `translate(0,${keyTop0 + i*keyPitch})`);
items.append("rect").attr("x", 1).attr("y", 1).attr("width", 43.6).attr("height", 44.1).attr("fill", "#F2F2F2");
items.append("line").attr("x1", 4.5).attr("x2", 41).attr("y1", 23).attr("y2", 23)
  .attr("stroke", d => color(d)).attr("stroke-width", 1.6);
items.append("text").attr("x", 60).attr("y", 31.5).attr("font-size", 23.4).attr("fill", "#000").text(d => d);
</script>
</body></html>
